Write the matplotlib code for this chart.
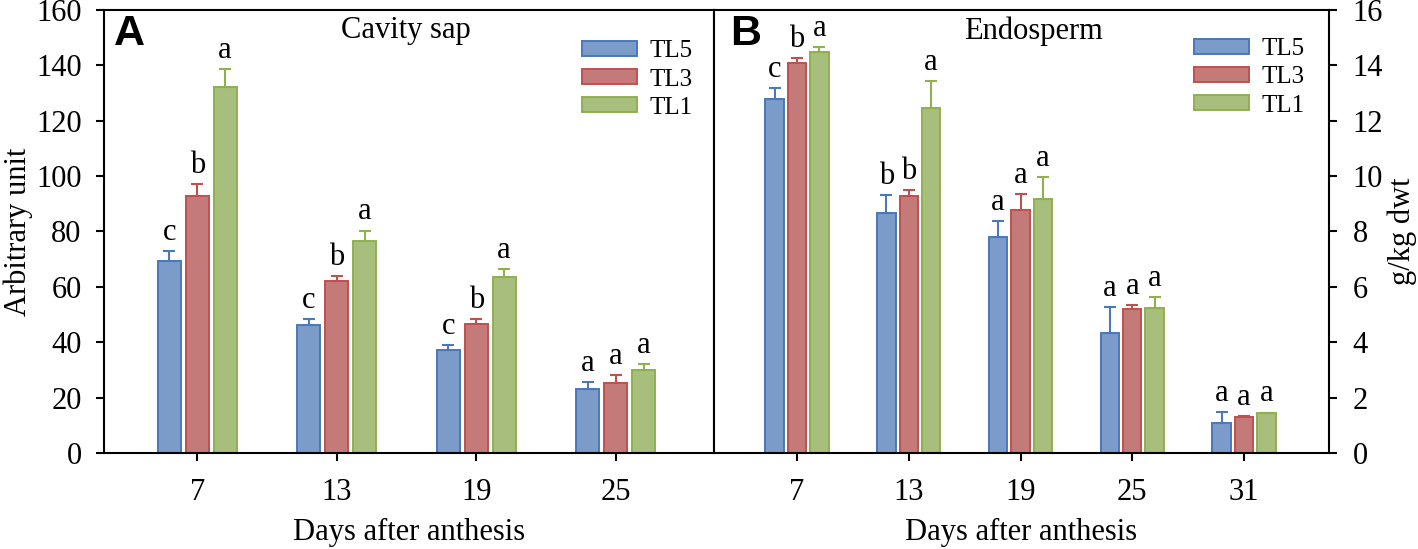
import matplotlib
matplotlib.use("Agg")
import matplotlib.pyplot as plt
import numpy as np

plt.rcParams['font.family'] = ['Liberation Serif', 'DejaVu Serif']

series = ["TL5", "TL3", "TL1"]

# Panel A: Cavity sap
days_a = ["7", "13", "19", "25"]
sap_tl5 = [69.3, 46.2, 37.2, 23.0]
sap_tl3 = [92.9, 62.2, 46.5, 25.2]
sap_tl1 = [132.2, 76.6, 63.4, 30.0]
sap_err_tl5 = [3.6, 2.1, 1.8, 2.6]
sap_err_tl3 = [4.2, 1.8, 1.8, 2.8]
sap_err_tl1 = [6.3, 3.7, 3.0, 2.2]
sap_let_tl5 = ["c", "c", "c", "a"]
sap_let_tl3 = ["b", "b", "b", "a"]
sap_let_tl1 = ["a", "a", "a", "a"]

# Panel B: Endosperm
days_b = ["7", "13", "19", "25", "31"]
endo_tl5 = [12.78, 8.65, 7.79, 4.32, 1.09]
endo_tl3 = [14.07, 9.28, 8.76, 5.2, 1.31]
endo_tl1 = [14.47, 12.44, 9.17, 5.23, 1.43]
endo_err_tl5 = [0.39, 0.66, 0.59, 0.96, 0.40]
endo_err_tl3 = [0.2, 0.21, 0.59, 0.14, 0.03]
endo_err_tl1 = [0.18, 0.99, 0.78, 0.39, 0.03]
endo_let_tl5 = ["c", "b", "a", "a", "a"]
endo_let_tl3 = ["b", "b", "a", "a", "a"]
endo_let_tl1 = ["a", "a", "a", "a", "a"]

fills = ["#7b9bc8", "#c57a7a", "#a7be7c"]
edges = ["#4a78bb", "#c0504d", "#8fb04f"]

fig = plt.figure(figsize=(14.18, 5.49), dpi=100)
axA = fig.add_axes([0.0733, 0.1749, 0.4302, 0.8073])
axB = fig.add_axes([0.5035, 0.1749, 0.4337, 0.8073])

FS = 22

def draw(ax, cats, vals, errs, lets):
    x = np.arange(len(cats))
    offs = [-0.2, 0.0, 0.2]
    for i, (v, e, l) in enumerate(zip(vals, errs, lets)):
        ax.bar(x + offs[i], v, width=0.165, color=fills[i], edgecolor=edges[i],
               linewidth=1.4, label=series[i], zorder=2,
               yerr=[np.zeros(len(e)), e],
               error_kw=dict(ecolor=edges[i], elinewidth=1.5, capsize=4.5, capthick=1.5))
        for xi, vi, ei, li in zip(x + offs[i], v, e, l):
            ax.annotate(li, (xi, vi + ei), xytext=(0, 3), textcoords='offset points',
                        ha='center', va='bottom', fontsize=FS)
    ax.set_xticks(x)
    ax.set_xticklabels(cats, fontsize=FS)
    ax.tick_params(axis='x', direction='out', length=6, width=1.5, pad=12)
    ax.set_xlabel("Days after anthesis", fontsize=FS, labelpad=8)
    for s in ax.spines.values():
        s.set_linewidth(1.5)

draw(axA, days_a, [sap_tl5, sap_tl3, sap_tl1], [sap_err_tl5, sap_err_tl3, sap_err_tl1],
     [sap_let_tl5, sap_let_tl3, sap_let_tl1])
axA.set_xlim(-0.669, 3.704)
axA.set_ylim(0, 160)
axA.set_yticks(np.arange(0, 161, 20))
axA.tick_params(axis='y', direction='out', length=6, width=1.5, labelsize=FS, pad=10)
axA.set_ylabel("Arbitrary unit", fontsize=FS, labelpad=2)
axA.text(0.016, 0.99, "A", transform=axA.transAxes, fontsize=31, fontweight='bold',
         family='Liberation Sans', ha='left', va='top')
axA.text(0.495, 0.985, "Cavity sap", transform=axA.transAxes, fontsize=FS, ha='center', va='top')
axA.legend(loc='upper right', bbox_to_anchor=(0.99, 0.965), frameon=False, fontsize=18,
           handlelength=2.2, handleheight=0.55, labelspacing=0.25, handletextpad=0.5,
           borderaxespad=0.2)

draw(axB, days_b, [endo_tl5, endo_tl3, endo_tl1], [endo_err_tl5, endo_err_tl3, endo_err_tl1],
     [endo_let_tl5, endo_let_tl3, endo_let_tl1])
axB.set_xlim(-0.743, 4.76)
axB.set_ylim(0, 16)
axB.set_yticks(np.arange(0, 17, 2))
axB.yaxis.tick_right()
axB.yaxis.set_label_position('right')
axB.tick_params(axis='y', direction='out', length=6, width=1.5, labelsize=FS, pad=11)
axB.set_ylabel("g/kg dwt", fontsize=FS, labelpad=3)
axB.text(0.026, 0.99, "B", transform=axB.transAxes, fontsize=31, fontweight='bold',
         family='Liberation Sans', ha='left', va='top')
axB.text(0.519, 0.985, "Endosperm", transform=axB.transAxes, fontsize=FS, ha='center', va='top')
axB.legend(loc='upper right', bbox_to_anchor=(0.985, 0.97), frameon=False, fontsize=18,
           handlelength=2.2, handleheight=0.55, labelspacing=0.25, handletextpad=0.5,
           borderaxespad=0.2)

fig.savefig("out.png", dpi=100)
